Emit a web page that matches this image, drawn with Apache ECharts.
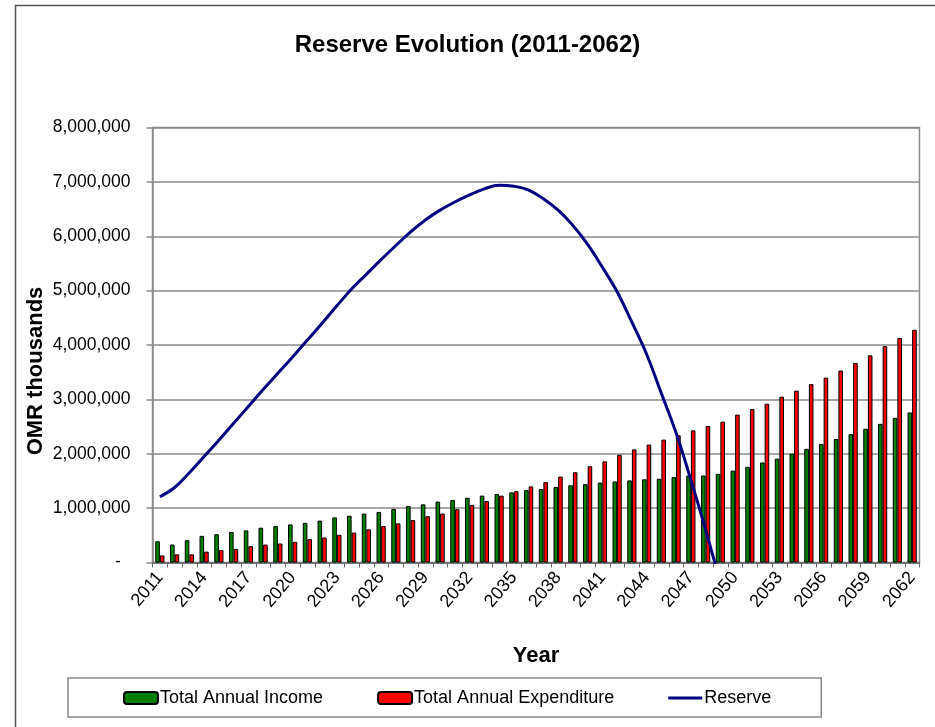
<!DOCTYPE html>
<html>
<head>
<meta charset="utf-8">
<title>Reserve Evolution (2011-2062)</title>
<script src="https://cdn.jsdelivr.net/npm/echarts@6/dist/echarts.min.js"></script>
<style>
  html, body { margin: 0; padding: 0; background: #fff; }
  #chart { width: 935px; height: 727px; }
</style>
</head>
<body>
<div id="chart"></div>
<script>
// Projection years
const years = [];
for (let y = 2011; y <= 2062; y++) years.push(String(y));

// Total annual income (OMR thousands)
const income = [
  390000, 330000, 410000, 490000, 520000, 560000, 590000, 640000, 670000, 700000,
  730000, 770000, 830000, 860000, 900000, 930000, 985000, 1040000, 1070000, 1120000,
  1150000, 1190000, 1230000, 1260000, 1290000, 1330000, 1350000, 1390000, 1420000, 1440000,
  1470000, 1490000, 1510000, 1530000, 1540000, 1570000, 1600000, 1600000, 1630000, 1690000,
  1760000, 1840000, 1910000, 2000000, 2090000, 2180000, 2270000, 2360000, 2460000, 2550000,
  2660000, 2760000
];

// Total annual expenditure (OMR thousands)
const expenditure = [
  130000, 150000, 150000, 200000, 230000, 250000, 300000, 330000, 350000, 380000,
  430000, 460000, 510000, 550000, 610000, 670000, 720000, 780000, 850000, 900000,
  980000, 1060000, 1130000, 1230000, 1310000, 1400000, 1480000, 1580000, 1660000, 1770000,
  1860000, 1980000, 2080000, 2170000, 2260000, 2340000, 2430000, 2510000, 2590000, 2720000,
  2820000, 2920000, 3050000, 3160000, 3280000, 3400000, 3530000, 3670000, 3810000, 3980000,
  4130000, 4280000
];

// Reserve at year end (OMR thousands); exhausted during 2049
const reserve = [
  1210000, 1380000, 1650000, 1950000, 2250000, 2560000, 2870000, 3180000, 3480000, 3780000,
  4090000, 4400000, 4720000, 5030000, 5300000, 5570000, 5830000, 6080000, 6300000, 6480000,
  6630000, 6760000, 6870000, 6940000, 6920000, 6850000, 6690000, 6480000, 6200000, 5850000,
  5430000, 4980000, 4420000, 3830000, 3110000, 2380000, 1520000, 600000, -380000, null,
  null, null, null, null, null, null, null, null, null, null,
  null, null
];

// Value axis ticks
const yMin = 0, yMax = 8000000, yStep = 1000000;

const FONT = '"Liberation Sans", Arial, Helvetica, sans-serif';

const chart = echarts.init(document.getElementById('chart'), null, { renderer: 'canvas' });

chart.setOption({
  backgroundColor: '#ffffff',
  animation: false,
  textStyle: { fontFamily: FONT, color: '#000' },
  title: {
    text: 'Reserve Evolution (2011-2062)',
    left: 'center',
    top: 33,
    padding: 0,
    textStyle: { fontFamily: FONT, fontSize: 24, fontWeight: 'bold', color: '#000' }
  },
  graphic: [
    {
      type: 'rect',
      shape: { x: 15.5, y: 5.5, width: 960, height: 760 },
      style: { fill: 'none', stroke: '#555', lineWidth: 1.5 },
      silent: true
    },
    {
      type: 'text',
      x: 36, y: 371,
      rotation: Math.PI / 2,
      style: {
        text: 'OMR thousands',
        fontFamily: FONT, fontSize: 22, fontWeight: 'bold', fill: '#000',
        textAlign: 'center', textVerticalAlign: 'middle'
      }
    }
  ],
  legend: {
    left: 68,
    top: 678,
    padding: [11, 50, 10, 55],
    itemGap: 54,
    itemWidth: 34,
    itemHeight: 12,
    borderColor: '#888',
    borderWidth: 1.5,
    textStyle: { fontFamily: FONT, fontSize: 18, color: '#000', padding: [0, 0, 0, -3] },
    data: [
      'Total Annual Income',
      'Total Annual Expenditure',
      {
        name: 'Reserve',
        icon: 'path://M0,0H36V3H0Z',
        itemStyle: { color: '#000080', borderWidth: 0 }
      }
    ]
  },
  grid: {
    left: 152.5,
    right: 15.5,
    top: 127.5,
    bottom: 164.5,
    show: true,
    borderColor: '#8a8a8a',
    borderWidth: 1.5,
    containLabel: false
  },
  xAxis: {
    type: 'category',
    data: years,
    boundaryGap: true,
    name: 'Year',
    nameLocation: 'middle',
    nameGap: 82,
    nameTextStyle: { fontFamily: FONT, fontSize: 22, fontWeight: 'bold', color: '#000' },
    axisLine: { lineStyle: { color: '#666', width: 1.5 } },
    axisTick: { show: true, interval: 0, length: 5, lineStyle: { color: '#666' } },
    axisLabel: {
      interval: 2,
      rotate: 50,
      margin: 12,
      fontFamily: FONT,
      fontSize: 18,
      color: '#000'
    }
  },
  yAxis: {
    type: 'value',
    min: yMin,
    max: yMax,
    interval: yStep,
    axisLine: { show: true, lineStyle: { color: '#8a8a8a', width: 1.5 } },
    axisTick: { show: true, length: 6, lineStyle: { color: '#8a8a8a', width: 1.5 } },
    splitLine: { show: true, lineStyle: { color: '#8a8a8a', width: 1.5 } },
    axisLabel: {
      margin: 22,
      fontFamily: FONT,
      fontSize: 17.5,
      color: '#000',
      formatter: function (v) {
        return v === 0 ? '-  ' : v.toLocaleString('en-US');
      }
    }
  },
  series: [
    {
      name: 'Total Annual Income',
      type: 'bar',
      data: income,
      barWidth: 4.6,
      barGap: '0%',
      itemStyle: { color: '#008000', borderColor: '#000', borderWidth: 1 },
      z: 2
    },
    {
      name: 'Total Annual Expenditure',
      type: 'bar',
      data: expenditure,
      barWidth: 4.6,
      barGap: '0%',
      itemStyle: { color: '#ff0000', borderColor: '#000', borderWidth: 1 },
      z: 2
    },
    {
      name: 'Reserve',
      type: 'line',
      data: reserve,
      smooth: 0.4,
      symbol: 'none',
      clip: true,
      connectNulls: false,
      lineStyle: { color: '#000080', width: 3 },
      itemStyle: { color: '#000080' },
      z: 5
    }
  ]
});
</script>
</body>
</html>
